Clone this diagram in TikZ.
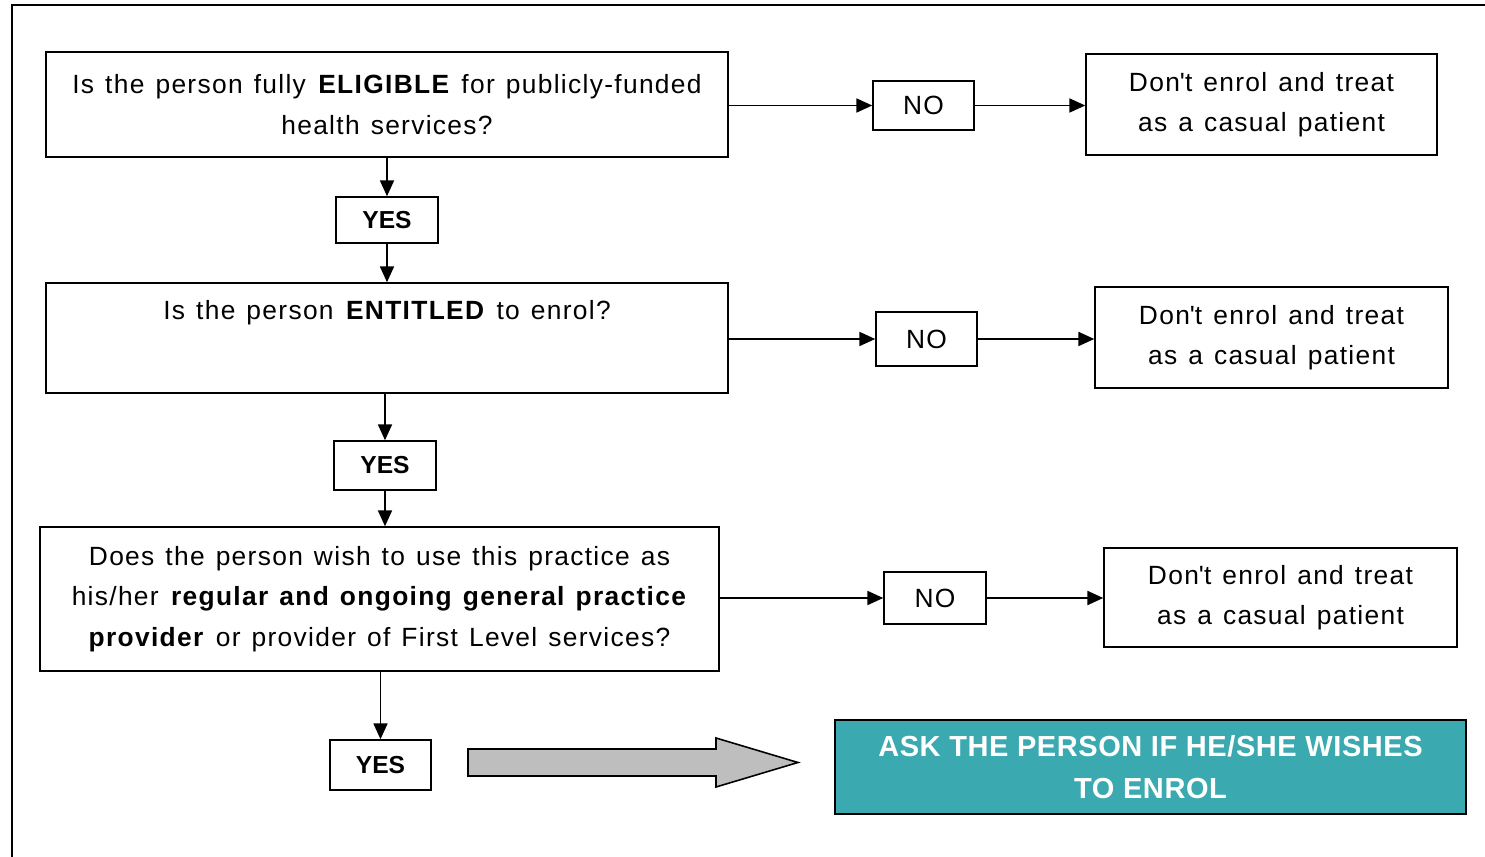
\documentclass[tikz,border=0pt]{standalone}
\usepackage{fontspec}
\setmainfont{Liberation Sans}
\usetikzlibrary{arrows.meta}
\definecolor{tealbox}{HTML}{3BA9B0}
\definecolor{arrowgrey}{HTML}{BEBEBE}
\newcommand{\bodyfont}{\fontsize{15}{23}\selectfont\addfontfeatures{LetterSpace=5}\spaceskip=0.42em plus 0.1em}
\newcommand{\apo}{\textquotesingle}
\tikzset{
  box/.style={draw=black, line width=0.9pt, fill=white, align=center, inner sep=0pt,
    font=\bodyfont},
  lbl/.style={box},
  yesbox/.style={box, font=\fontsize{14}{23}\selectfont\bfseries},
  plain/.style={align=center, inner sep=0pt, font=\bodyfont},
  conn/.style={line width=0.9pt, -{Triangle[length=9pt,width=8pt]}},
  frame/.style={line width=1pt},
}
\begin{document}
\begin{tikzpicture}[x=0.02cm,y=-0.02cm]
\useasboundingbox (0,0) rectangle (1485,857);
\draw[frame] (12,857) -- (12,5) -- (1485,5);

% row 1
\node[box, minimum width=13.64cm, minimum height=2.1cm] (q1) at (387,104.5)
  {Is the person fully \textbf{ELIGIBLE} for publicly-funded\\health services?};
\node[lbl, minimum width=2.02cm, minimum height=0.98cm] (no1) at (923.5,105.5) {NO};
\node[box, minimum width=7.02cm, minimum height=2.02cm] (d1) at (1261.5,104.5)
  {Don\apo t enrol and treat\\as a casual patient};
\node[yesbox, minimum width=2.04cm, minimum height=0.92cm] (y1) at (387,220) {YES};

% row 2
\node[box, minimum width=13.64cm, minimum height=2.2cm] (q2) at (387,338) {};
\node[plain] (q2t) at (387,313) {Is the person \textbf{ENTITLED} to enrol?};
\node[lbl, minimum width=2.02cm, minimum height=1.08cm] (no2) at (926.5,339) {NO};
\node[box, minimum width=7.06cm, minimum height=2.02cm] (d2) at (1271.5,337.5)
  {Don\apo t enrol and treat\\as a casual patient};
\node[yesbox, minimum width=2.04cm, minimum height=0.98cm] (y2) at (385,465.5) {YES};

% row 3
\node[box, minimum width=13.58cm, minimum height=2.88cm] (q3) at (379.5,599)
  {Does the person wish to use this practice as\\his/her \textbf{regular and ongoing general practice}\\\textbf{provider} or provider of First Level services?};
\node[lbl, minimum width=2.04cm, minimum height=1.04cm] (no3) at (935,598) {NO};
\node[box, minimum width=7.06cm, minimum height=1.98cm] (d3) at (1280.5,597.5)
  {Don\apo t enrol and treat\\as a casual patient};
\node[yesbox, minimum width=2.02cm, minimum height=1.0cm] (y3) at (380.5,765) {YES};

% final
\node[draw=black, line width=0.9pt, fill=tealbox, text=white, align=center, inner sep=0pt,
  minimum width=12.62cm, minimum height=1.88cm,
  font=\fontsize{16.5}{23.5}\selectfont\bfseries\addfontfeatures{LetterSpace=2}] (ask) at (1150.5,767)
  {ASK THE PERSON IF HE/SHE WISHES\\TO ENROL};
\draw[line width=0.9pt, fill=arrowgrey, line join=miter]
  (468,749) -- (716,749) -- (716,738) -- (798,762.5) -- (716,787) -- (716,776) -- (468,776) -- cycle;

% connectors
\draw[conn] (q1.east |- no1) -- (no1.west);
\draw[conn] (no1) -- (d1.west |- no1);
\draw[conn] (q1.south -| y1) -- (y1.north);
\draw[conn] (y1.south) -- (q2.north -| y1);
\draw[conn] (q2.east |- no2) -- (no2.west);
\draw[conn] (no2) -- (d2.west |- no2);
\draw[conn] (q2.south -| y2) -- (y2.north);
\draw[conn] (y2.south) -- (q3.north -| y2);
\draw[conn] (q3.east |- no3) -- (no3.west);
\draw[conn] (no3) -- (d3.west |- no3);
\draw[conn] (q3.south -| y3) -- (y3.north);
\end{tikzpicture}
\end{document}
